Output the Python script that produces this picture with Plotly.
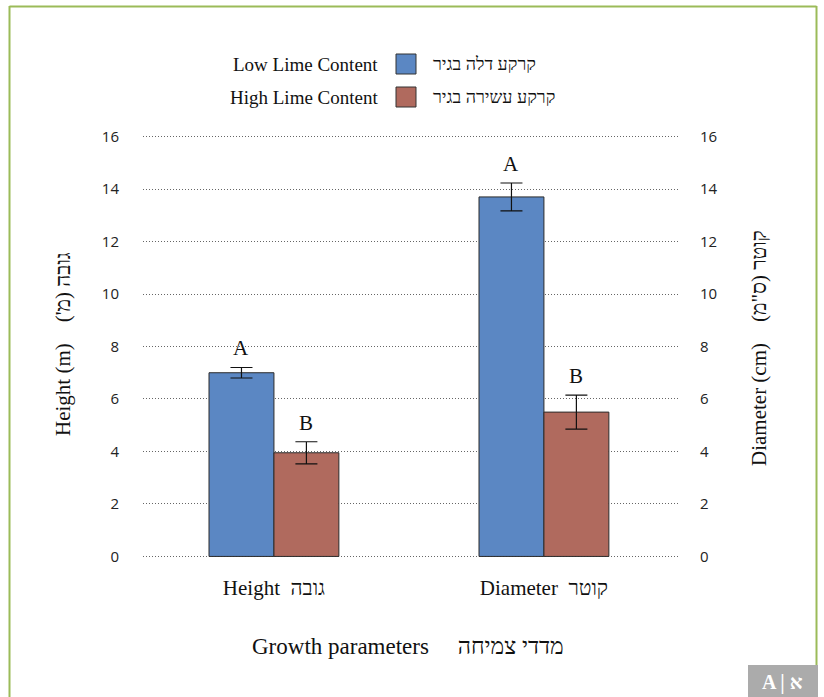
import plotly.graph_objects as go

# ---- data -------------------------------------------------------------
categories = ["Height  גובה", "Diameter  קוטר"]
low_lime = [7.0, 13.7]
low_lime_err = [0.2, 0.53]
high_lime = [3.95, 5.5]
high_lime_err = [0.42, 0.65]
low_letters = ["A", "A"]
high_letters = ["B", "B"]
y_ticks = [0, 2, 4, 6, 8, 10, 12, 14, 16]

series_names = ["Low Lime Content", "High Lime Content"]
series_names_he = ["קרקע דלה בגיר", "קרקע עשירה בגיר"]

BLUE = "#5b87c3"
RED = "#b06a5e"
SERIF = "Liberation Serif, Times New Roman, serif"
SANS = "Open Sans, Noto Sans, sans-serif"

W, H = 824, 697
L, R, T, B = 143, 680, 135, 558  # plot area in pixels


def px_x(px):
    return (px - L) / (R - L)


def px_y(py):
    return (B - py) / (B - T)


fig = go.Figure()

fig.add_trace(go.Bar(
    x=categories, y=low_lime, name=series_names[0],
    marker=dict(color=BLUE, line=dict(color="#2b2b2b", width=1)),
    error_y=dict(type="data", array=low_lime_err, color="#111111",
                 thickness=1.2, width=11),
    showlegend=False,
))
fig.add_trace(go.Bar(
    x=categories, y=high_lime, name=series_names[1],
    marker=dict(color=RED, line=dict(color="#2b2b2b", width=1)),
    error_y=dict(type="data", array=high_lime_err, color="#111111",
                 thickness=1.2, width=11),
    showlegend=False,
))
# invisible companion so the secondary (right) axis is drawn
fig.add_trace(go.Scatter(
    x=categories, y=high_lime, yaxis="y2", mode="markers",
    marker=dict(opacity=0), hoverinfo="skip", showlegend=False,
))

# significance letters above each error bar
annotations = []
for vals, errs, letters, shift in ((low_lime, low_lime_err, low_letters, -32.5),
                                   (high_lime, high_lime_err, high_letters, 32.5)):
    for cat, v, e, letter in zip(categories, vals, errs, letters):
        annotations.append(dict(
            x=cat, y=v + e, xref="x", yref="y", text=letter,
            showarrow=False, xshift=shift, yanchor="bottom", yshift=5,
            font=dict(family=SERIF, size=21, color="#111111"),
        ))

# legend built from text and swatches
legend_rows = [64, 97]
for row_y, en, he, col in zip(legend_rows, series_names, series_names_he, (BLUE, RED)):
    annotations.append(dict(
        x=px_x(380), y=px_y(row_y), xref="paper", yref="paper", text=en,
        showarrow=False, xanchor="right", yanchor="middle",
        font=dict(family=SERIF, size=19, color="#111111"),
    ))
    annotations.append(dict(
        x=px_x(431), y=px_y(row_y), xref="paper", yref="paper", text=he,
        showarrow=False, xanchor="left", yanchor="middle",
        font=dict(family=SERIF, size=18, color="#111111"),
    ))

# axis titles
annotations.append(dict(
    x=px_x(63), y=px_y(344), xref="paper", yref="paper",
    text="Height (m)    גובה (מ')\u200f", textangle=-90, showarrow=False,
    xanchor="center", yanchor="middle",
    font=dict(family=SERIF, size=21, color="#111111"),
))
annotations.append(dict(
    x=px_x(759), y=px_y(348), xref="paper", yref="paper",
    text="Diameter (cm)    קוטר (ס\"מ)\u200f", textangle=-90, showarrow=False,
    xanchor="center", yanchor="middle",
    font=dict(family=SERIF, size=21, color="#111111"),
))
annotations.append(dict(
    x=px_x(408), y=px_y(646), xref="paper", yref="paper",
    text="Growth parameters     מדדי צמיחה", showarrow=False,
    xanchor="center", yanchor="middle",
    font=dict(family=SERIF, size=23, color="#111111"),
))
# corner badge text
annotations.append(dict(
    x=px_x(782), y=px_y(682), xref="paper", yref="paper",
    text="<b>A | א</b>", showarrow=False, xanchor="center", yanchor="middle",
    font=dict(family=SERIF, size=20, color="white"),
))

GREEN = "#9bbb59"
shapes = [
    dict(type="line", xref="paper", yref="paper", x0=px_x(9.5), x1=px_x(9.5),
         y0=px_y(6), y1=px_y(700), line=dict(color=GREEN, width=2), layer="above"),
    dict(type="line", xref="paper", yref="paper", x0=px_x(9.5), x1=px_x(816.5),
         y0=px_y(6.5), y1=px_y(6.5), line=dict(color=GREEN, width=2), layer="above"),
    dict(type="line", xref="paper", yref="paper", x0=px_x(816.5), x1=px_x(816.5),
         y0=px_y(6), y1=px_y(665), line=dict(color=GREEN, width=2), layer="above"),
    dict(type="rect", xref="paper", yref="paper", x0=px_x(748), x1=px_x(818),
         y0=px_y(665), y1=px_y(700), fillcolor="#ababab", line=dict(width=0),
         layer="below"),
]
for row_y, col in zip(legend_rows, (BLUE, RED)):
    shapes.append(dict(
        type="rect", xref="paper", yref="paper",
        x0=px_x(396), x1=px_x(416), y0=px_y(row_y - 10), y1=px_y(row_y + 10),
        fillcolor=col, line=dict(color="#333333", width=1),
    ))

y_range = [-0.06, 16.06]

fig.update_layout(
    width=W, height=H,
    margin=dict(l=L, r=W - R, t=T, b=H - B, pad=0),
    paper_bgcolor="white", plot_bgcolor="white",
    barmode="group", bargap=0.519, bargroupgap=0,
    showlegend=False,
    annotations=annotations, shapes=shapes,
    xaxis=dict(
        range=[-0.485, 1.504],
        showgrid=False, showline=False, zeroline=False,
        ticks="outside", ticklen=11, tickcolor="rgba(0,0,0,0)",
        tickfont=dict(family=SERIF, size=21, color="#111111"),
    ),
    yaxis=dict(
        range=y_range, tickvals=y_ticks, showline=False, zeroline=False,
        showgrid=True, gridcolor="#666666", gridwidth=1, griddash="1px,2px",
        ticks="outside", ticklen=20, tickcolor="rgba(0,0,0,0)",
        tickfont=dict(family=SANS, size=15, color="#222222"),
    ),
    yaxis2=dict(
        range=y_range, tickvals=y_ticks, overlaying="y", side="right",
        anchor="x", showgrid=False, showline=False, zeroline=False,
        ticks="outside", ticklen=16, tickcolor="rgba(0,0,0,0)",
        tickfont=dict(family=SANS, size=15, color="#222222"),
    ),
)

fig.write_html("out.html")
